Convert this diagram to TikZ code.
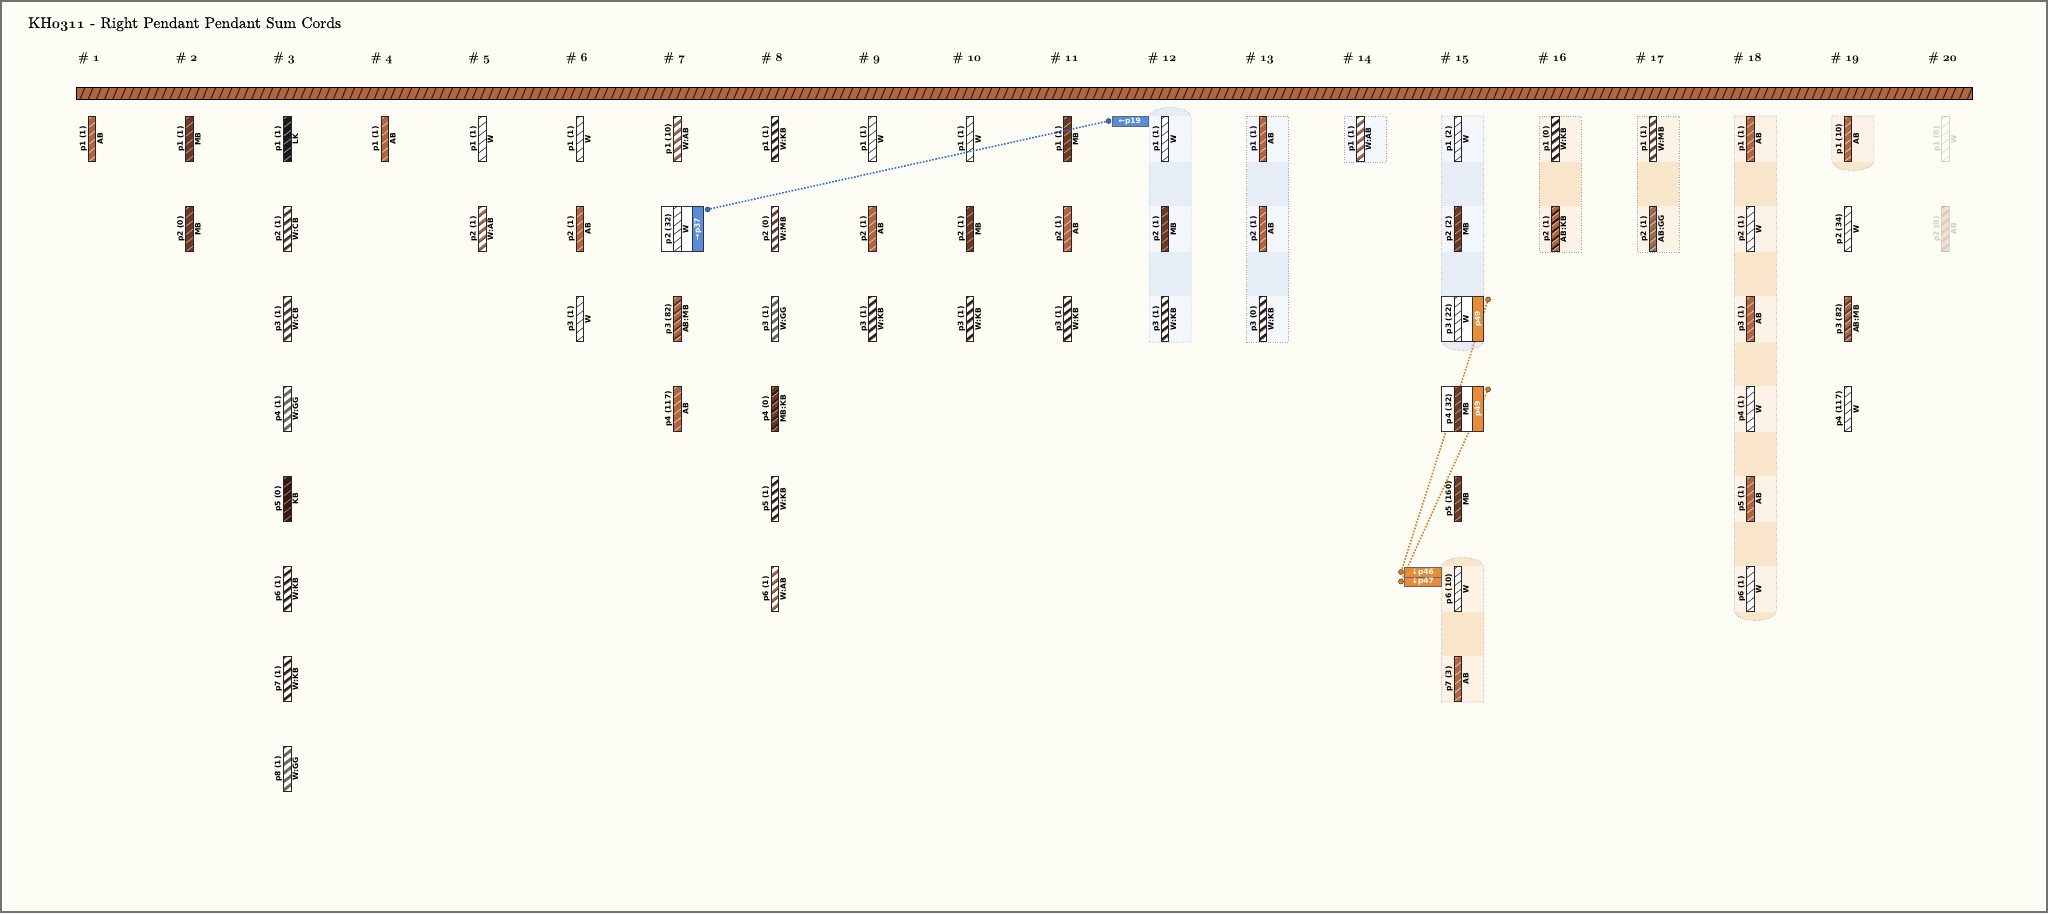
\documentclass[tikz,border=0pt]{standalone}
\usepackage{fontspec}
\newfontfamily\lblfont{DejaVu Sans}
\newfontfamily\ttlfont{lmroman10-regular.otf}[FakeBold=0.3]
\usetikzlibrary{backgrounds}
\definecolor{paper}{RGB}{253,253,246}
\definecolor{colab}{RGB}{180,100,60}
\definecolor{colmb}{RGB}{110,55,32}
\definecolor{colkb}{RGB}{55,25,15}
\definecolor{collk}{RGB}{25,25,25}
\definecolor{colcb}{RGB}{75,50,38}
\definecolor{colgg}{RGB}{105,105,92}
\definecolor{bluecell}{RGB}{243,246,250}
\definecolor{bluegap}{RGB}{231,237,246}
\definecolor{orcell}{RGB}{252,243,230}
\definecolor{orgap}{RGB}{249,229,202}
\definecolor{linkblue}{RGB}{45,110,230}
\definecolor{tagblue}{RGB}{85,140,220}
\definecolor{linkorange}{RGB}{230,120,25}
\definecolor{tagorange}{RGB}{232,140,55}
\newcommand\osn[1]{{\usefont{OML}{cmm}{b}{it}#1}}
\begin{document}
\begin{tikzpicture}[x=1pt,y=-1pt,
    lbl/.style={font=\lblfont\bfseries\fontsize{7.5}{8}\selectfont},
    cord/.style={draw=black!85,line width=.7pt,minimum width=7.5pt,minimum height=45.5pt,inner sep=0pt},
    cordfill/.style n args={3}{fill=#1,path picture={
        \foreach \k in {-1,...,6}{
          \fill[#2] ([yshift=\k*8.5pt]path picture bounding box.south west) -- ++(9pt,7pt) -- ++(0pt,3.2pt) -- ++(-9pt,-7pt) -- cycle;
          \draw[#3,line width=.7pt] ([yshift=\k*8.5pt]path picture bounding box.south west) -- ++(9pt,7pt);
        }}},
    ab/.style={cordfill={colab}{colab}{white!70!colab}},
    mb/.style={cordfill={colmb}{colmb}{white!55!colmb}},
    kb/.style={cordfill={colkb}{colkb}{white!50!colkb}},
    lk/.style={cordfill={collk}{collk}{white!60!collk}},
    w/.style={cordfill={white}{white}{black!75}},
    wab/.style={cordfill={white}{colab}{black!70}},
    wkb/.style={cordfill={white}{colkb}{black!60}},
    wmb/.style={cordfill={white}{colmb}{black!60}},
    wcb/.style={cordfill={white}{colcb}{black!60}},
    wgg/.style={cordfill={white}{colgg}{black!60}},
    abmb/.style={cordfill={colab}{colmb}{white!70!colab}},
    mbkb/.style={cordfill={colmb}{colkb}{white!55!colmb}},
    abkb/.style={cordfill={colab}{colkb}{white!70!colab}},
    abgg/.style={cordfill={colab}{colgg}{white!70!colab}},
    idlbl/.style={lbl,rotate=90,anchor=south,inner sep=.8pt},
    cdlbl/.style={lbl,rotate=90,anchor=north,inner sep=1.2pt},
    hdr/.style={anchor=base,font=\ttlfont\fontsize{12.5}{14}\selectfont,inner sep=0pt},
    sumbox/.style={draw=black!80,fill=white,line width=.7pt,minimum width=42pt,minimum height=45.5pt,inner sep=0pt},
    sumtag/.style={lbl,draw=black!80,line width=.7pt,fill=#1,text=white,minimum width=11pt,minimum height=45.5pt,inner sep=0pt,anchor=east},
    pointer/.style={lbl,draw=black!60,line width=.5pt,fill=#1,text=white,minimum width=36pt,minimum height=9.5pt,inner sep=0pt,anchor=north east},
    linkdot/.style={circle,draw=black!75,fill=#1,line width=.5pt,minimum size=5pt,inner sep=0pt},
    grpedge/.style={draw=black!35,line width=.6pt,dash pattern=on .8pt off 1.6pt},
    bluelink/.style={linkblue,line width=1.6pt,dash pattern=on 1.6pt off 1.6pt},
    orlink/.style={linkorange,line width=1.6pt,dash pattern=on 1.6pt off 1.6pt}
  ]
  \path[use as bounding box] (0,0) rectangle (2048,913);

  % page and group backgrounds
  \begin{scope}[on background layer]
    \fill[paper] (0,0) rectangle (2048,913);
    \fill[bluegap] (1149.05,342) -- (1149.05,118) .. controls (1149.05,104) and (1191.05,104) .. (1191.05,118) -- (1191.05,342) -- cycle;
    \fill[bluegap] (1441.7,116) -- (1441.7,340) .. controls (1441.7,354) and (1483.7,354) .. (1483.7,340) -- (1483.7,116) -- cycle;
    \fill[orgap] (1441.7,702) -- (1441.7,568) .. controls (1441.7,554) and (1483.7,554) .. (1483.7,568) -- (1483.7,702) -- cycle;
    \fill[orgap] (1734.35,116) -- (1734.35,610) .. controls (1734.35,624) and (1776.35,624) .. (1776.35,610) -- (1776.35,116) -- cycle;
    \fill[orgap] (1831.9,116) -- (1831.9,160) .. controls (1831.9,174) and (1873.9,174) .. (1873.9,160) -- (1873.9,116) -- cycle;
    \foreach \col/\last/\gap in {13/3/bluegap,14/1/bluegap,16/2/orgap,17/2/orgap}
      \fill[\gap] ({76+97.55*(\col-1)},116) rectangle ++(42,{90*\last-44});
    \foreach \col/\first/\last/\cell in {12/1/3/bluecell,13/1/3/bluecell,14/1/1/bluecell,15/1/3/bluecell,15/6/7/orcell,16/1/2/orcell,17/1/2/orcell,18/1/6/orcell,19/1/1/orcell}
      \foreach \row in {\first,...,\last}
        \fill[\cell] ({76+97.55*(\col-1)},{116+90*(\row-1)}) rectangle ++(42,46);
    \draw[grpedge] (1149.05,342) -- (1149.05,118) .. controls (1149.05,104) and (1191.05,104) .. (1191.05,118) -- (1191.05,342) -- cycle;
    \draw[grpedge] (1441.7,116) -- (1441.7,340) .. controls (1441.7,354) and (1483.7,354) .. (1483.7,340) -- (1483.7,116) -- cycle;
    \draw[grpedge] (1441.7,702) -- (1441.7,568) .. controls (1441.7,554) and (1483.7,554) .. (1483.7,568) -- (1483.7,702) -- cycle;
    \draw[grpedge] (1734.35,116) -- (1734.35,610) .. controls (1734.35,624) and (1776.35,624) .. (1776.35,610) -- (1776.35,116) -- cycle;
    \draw[grpedge] (1831.9,116) -- (1831.9,160) .. controls (1831.9,174) and (1873.9,174) .. (1873.9,160) -- (1873.9,116) -- cycle;
    \foreach \col/\last in {13/3,14/1,16/2,17/2}
      \draw[grpedge] ({76+97.55*(\col-1)},116) rectangle ++(42,{90*\last-44});
  \end{scope}

  \node[anchor=base west,inner sep=0pt,font=\ttlfont\fontsize{15.5}{17}\selectfont] (title) at (28,28) {KH\osn{0311} - Right Pendant Pendant Sum Cords};

  \foreach \col in {1,...,20}
    \node[hdr] (h\col) at ({89+97.55*(\col-1)},61) {\# \osn{\col}};

  % primary cord
  \node[draw=black,line width=1pt,fill=colab,minimum width=1896pt,minimum height=12pt,inner sep=0pt,
        path picture={\foreach \k in {0,...,235}{
          \draw[black!85,line width=1.1pt] ([xshift=\k*8.17pt-4pt]path picture bounding box.south west) -- ++(5pt,12pt);}}]
        (primary) at (1024,93) {};

  % sum boxes
  \foreach \col/\row in {7/2,15/3,15/4}
    \node[sumbox] (c\col-p\row-box) at ({97+97.55*(\col-1)},{139+90*(\row-1)}) {};

  % pendants
  \foreach \col/\row/\cnt/\code/\kind in {
      1/1/1/AB/ab,
      2/1/1/MB/mb, 2/2/0/MB/mb,
      3/1/1/LK/lk, 3/2/1/W:CB/wcb, 3/3/1/W:CB/wcb, 3/4/1/W:GG/wgg, 3/5/0/KB/kb, 3/6/1/W:KB/wkb, 3/7/1/W:KB/wkb, 3/8/1/W:GG/wgg,
      4/1/1/AB/ab,
      5/1/1/W/w, 5/2/1/W:AB/wab,
      6/1/1/W/w, 6/2/1/AB/ab, 6/3/1/W/w,
      7/1/10/W:AB/wab, 7/2/32/W/w, 7/3/82/AB:MB/abmb, 7/4/117/AB/ab,
      8/1/1/W:KB/wkb, 8/2/0/W:MB/wmb, 8/3/1/W:GG/wgg, 8/4/0/MB:KB/mbkb, 8/5/1/W:KB/wkb, 8/6/1/W:AB/wab,
      9/1/1/W/w, 9/2/1/AB/ab, 9/3/1/W:KB/wkb,
      10/1/1/W/w, 10/2/1/MB/mb, 10/3/1/W:KB/wkb,
      11/1/1/MB/mb, 11/2/1/AB/ab, 11/3/1/W:KB/wkb,
      12/1/1/W/w, 12/2/1/MB/mb, 12/3/1/W:KB/wkb,
      13/1/1/AB/ab, 13/2/1/AB/ab, 13/3/0/W:KB/wkb,
      14/1/1/W:AB/wab,
      15/1/2/W/w, 15/2/2/MB/mb, 15/3/22/W/w, 15/4/32/MB/mb, 15/5/160/MB/mb, 15/6/10/W/w, 15/7/3/AB/ab,
      16/1/0/W:KB/wkb, 16/2/1/AB:KB/abkb,
      17/1/1/W:MB/wmb, 17/2/1/AB:GG/abgg,
      18/1/1/AB/ab, 18/2/1/W/w, 18/3/1/AB/ab, 18/4/1/W/w, 18/5/1/AB/ab, 18/6/1/W/w,
      19/1/10/AB/ab, 19/2/34/W/w, 19/3/82/AB:MB/abmb, 19/4/117/W/w}{
    \node[cord,\kind] (c\col-p\row) at ({92+97.55*(\col-1)},{139+90*(\row-1)}) {};
    \node[idlbl] (c\col-p\row-id) at (c\col-p\row.west) {p\row{} (\cnt)};
    \node[cdlbl] (c\col-p\row-cd) at (c\col-p\row.east) {\code};
  }

  % empty column
  \begin{scope}[opacity=.18]
    \foreach \row/\cnt/\code/\kind in {1/0/W/w, 2/0/AB/ab}{
      \node[cord,\kind] (c20-p\row) at ({92+97.55*19},{139+90*(\row-1)}) {};
      \node[idlbl] (c20-p\row-id) at (c20-p\row.west) {p\row{} (\cnt)};
      \node[cdlbl] (c20-p\row-cd) at (c20-p\row.east) {\code};
    }
  \end{scope}

  % sum tags and pointers
  \node[sumtag=tagblue] (c7-p2-tag) at (c7-p2-box.east) {\rotatebox{90}{→p37}};
  \node[sumtag=tagorange] (c15-p3-tag) at (c15-p3-box.east) {\rotatebox{90}{p49}};
  \node[sumtag=tagorange] (c15-p4-tag) at (c15-p4-box.east) {\rotatebox{90}{p49}};
  \node[pointer=tagblue] (c12-p1-ptr) at (1148,116) {←p19};
  \node[pointer=tagorange,minimum width=37pt] (c15-p6-ptra) at (1441.5,567) {↓p46};
  \node[pointer=tagorange,minimum width=37pt] (c15-p6-ptrb) at (1441.5,576.5) {↓p47};

  \node[linkdot=linkblue] (c7-p2-dot) at ([xshift=4pt,yshift=-3.5pt]c7-p2-box.north east) {};
  \node[linkdot=linkorange] (c15-p3-dot) at ([xshift=4pt,yshift=-3.5pt]c15-p3-box.north east) {};
  \node[linkdot=linkorange] (c15-p4-dot) at ([xshift=4pt,yshift=-3.5pt]c15-p4-box.north east) {};
  \node[linkdot=linkblue] (c12-p1-ptrdot) at ([xshift=-3pt]c12-p1-ptr.west) {};
  \node[linkdot=linkorange] (c15-p6-ptradot) at ([xshift=-3pt]c15-p6-ptra.west) {};
  \node[linkdot=linkorange] (c15-p6-ptrbdot) at ([xshift=-3pt]c15-p6-ptrb.west) {};

  \draw[bluelink] (c7-p2-dot) -- (c12-p1-ptrdot);
  \begin{scope}[on background layer]
    \draw[orlink] (c15-p3-dot) -- (c15-p6-ptradot);
    \draw[orlink] (c15-p4-dot) -- (c15-p6-ptrbdot);
  \end{scope}

  \draw[black!55,line width=2pt] (1,1) rectangle (2047,912);
\end{tikzpicture}
\end{document}
